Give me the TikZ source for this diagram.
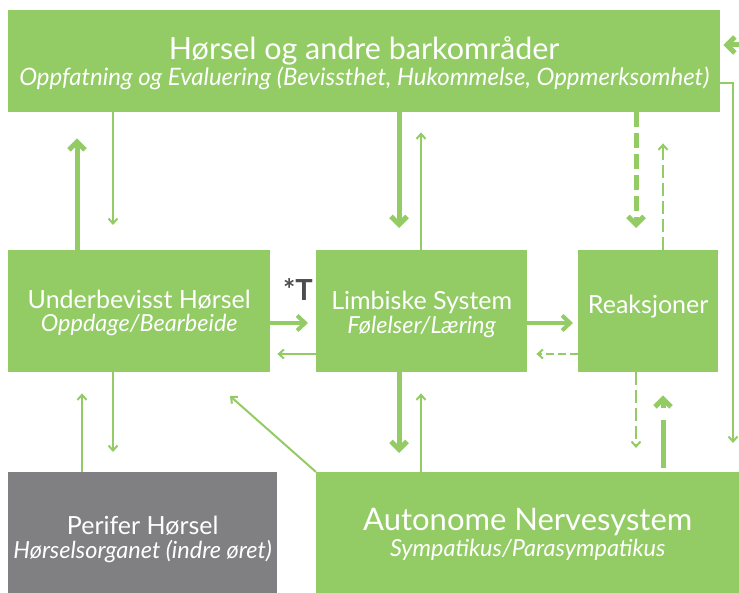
\documentclass[tikz,border=0pt]{standalone}
\usepackage{fontspec}
\setmainfont{Lato}
\usetikzlibrary{arrows.meta}
\definecolor{leaf}{RGB}{147,203,101}
\definecolor{slate}{RGB}{128,128,131}
\definecolor{ink}{RGB}{77,77,80}
\tikzset{
  box/.style={fill=leaf, text=white, inner sep=0pt, align=center, anchor=north west},
  greybox/.style={box, fill=slate},
  caption/.style={text=white, inner sep=0pt, align=center},
  thick link/.style={draw=leaf, line width=5pt, -{Straight Barb[length=8pt, width=16pt]}},
  mid link/.style={draw=leaf, line width=4pt, -{Straight Barb[length=8pt, width=15pt]}},
  thin link/.style={draw=leaf, line width=2pt, -{Straight Barb[length=5pt, width=9pt]}},
  thick dash/.style={thick link, dash pattern=on 15pt off 6pt},
  thin dash/.style={thin link, dash pattern=on 13pt off 5pt},
  short dash/.style={thin link, dash pattern=on 8pt off 4pt},
  head big/.style={caption, font=\fontsize{30.5}{30}\selectfont},
  head small/.style={caption, font=\fontsize{25}{25}\selectfont},
  head ans/.style={caption, font=\fontsize{31}{30}\selectfont},
  subline/.style={caption, font=\fontsize{23.5}{24}\selectfont\itshape},
}
\begin{document}
\begin{tikzpicture}[x=1pt, y=-1pt]
\useasboundingbox (0,0) rectangle (739,593);

% boxes
\node[box, minimum width=712pt, minimum height=102pt] (cortex) at (8,10) {};
\node[box, minimum width=262pt, minimum height=122pt] (sub) at (8,250) {};
\node[box, minimum width=211pt, minimum height=122pt] (limb) at (316,250) {};
\node[box, minimum width=140pt, minimum height=122pt] (react) at (578,250) {};
\node[greybox, minimum width=269pt, minimum height=121pt] (ear) at (8,472) {};
\node[box, minimum width=423pt, minimum height=121pt] (ans) at (316,472) {};

% captions
\node[head big] (cortexT) at ([yshift=10pt]cortex.center) {Hørsel og andre barkområder};
\node[subline, font=\fontsize{24}{24}\selectfont\itshape] (cortexS) at ([yshift=-17pt]cortex.center) {Oppfatning og Evaluering (Bevissthet, Hukommelse, Oppmerksomhet)};
\node[head small] (subT) at ([yshift=11pt]sub.center) {Underbevisst Hørsel};
\node[subline] (subS) at ([yshift=-14pt]sub.center) {Oppdage/Bearbeide};
\node[head small] (limbT) at ([yshift=9pt]limb.center) {Limbiske System};
\node[subline] (limbS) at ([yshift=-16pt]limb.center) {Følelser/Læring};
\node[head small] (reactT) at ([yshift=5pt]react.center) {Reaksjoner};
\node[head small] (earT) at ([yshift=7pt]ear.center) {Perifer Hørsel};
\node[subline] (earS) at ([yshift=-19pt]ear.center) {Hørselsorganet (indre øret)};
\node[head ans] (ansT) at ([yshift=11pt]ans.center) {Autonome Nervesystem};
\node[subline] (ansS) at ([yshift=-17pt]ans.center) {Sympatikus/Parasympatikus};

\node[text=ink, inner sep=0pt, font=\fontsize{29}{29}\selectfont\bfseries] (tlabel) at (298,290) {*T};

% vertical reference lines for the connectors
\coordinate (c77) at (77,0);
\coordinate (c82) at (82,0);
\coordinate (c113) at (113,0);
\coordinate (c399) at (399,0);
\coordinate (c421) at (421,0);
\coordinate (c636) at (636,0);
\coordinate (c663) at (663,0);
\coordinate (r323) at (0,323);
\coordinate (r354) at (0,354);

% cortex <-> subconscious
\draw[thick link, shorten >=26pt] (sub.north -| c77) -- (cortex.south -| c77);
\draw[thin link, shorten >=25pt] (cortex.south -| c113) -- (sub.north -| c113);
% cortex <-> limbic
\draw[thick link, shorten >=22pt] (cortex.south -| c399) -- (limb.north -| c399);
\draw[thin link, shorten >=20pt] (limb.north -| c421) -- (cortex.south -| c421);
% cortex <-> reactions
\draw[thick dash, shorten >=22pt] (cortex.south -| c636) -- (react.north -| c636);
\draw[thin dash, shorten >=31pt] (react.north -| c663) -- (cortex.south -| c663);
% subconscious <-> limbic
\draw[mid link, shorten >=8pt] (sub.east |- r323) -- (limb.west |- r323);
\draw[thin link, shorten >=7pt] (limb.west |- r354) -- (sub.east |- r354);
% limbic <-> reactions
\draw[mid link, shorten >=5pt] (limb.east |- r323) -- (react.west |- r323);
\draw[short dash, shorten >=9pt] (react.west |- r354) -- (limb.east |- r354);
% subconscious <-> peripheral
\draw[thin link, shorten >=20pt] (sub.south -| c113) -- (ear.north -| c113);
\draw[thin link, shorten >=21pt] (ear.north -| c82) -- (sub.south -| c82);
% autonomic -> subconscious
\coordinate (diagtip) at (230,396);
\draw[thin link] (ans.north west) -- (diagtip);
% limbic <-> autonomic
\draw[thick link, shorten >=19pt] (limb.south -| c399) -- (ans.north -| c399);
\draw[thin link, shorten >=21pt] (ans.north -| c421) -- (limb.south -| c421);
% reactions <-> autonomic
\draw[thin dash, shorten >=24pt] (react.south -| c636) -- (ans.north -| c636);
\draw[thick dash, dash pattern=on 0pt off 4pt on 48pt off 12pt on 30pt, shorten >=23pt] (ans.north -| c663) -- (react.south -| c663);
% cortex -> autonomic along the right edge
\coordinate (bend) at (733,83);
\draw[thin link, shorten >=29pt] (cortex.east |- bend) -- (bend) -- (ans.north -| bend);
% incoming arrow at the top right
\coordinate (inlet) at (741,45);
\draw[thick link, shorten >=3pt] (inlet) -- (cortex.east |- inlet);
\end{tikzpicture}
\end{document}
